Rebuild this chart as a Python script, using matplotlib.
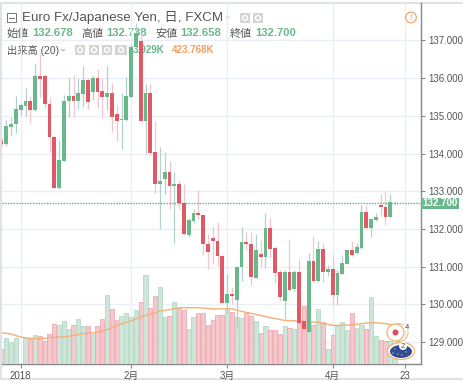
import matplotlib

matplotlib.use("Agg")
import matplotlib.pyplot as plt
from matplotlib.patches import Circle, Ellipse, Polygon, Rectangle

plt.rcParams["font.family"] = ["Liberation Sans", "Noto Sans CJK JP", "DejaVu Sans"]

opens = [134.32, 134.25, 134.71, 134.77, 135.16, 135.27, 135.38, 135.15, 136.06, 136.06,
         135.31, 134.45, 133.10, 133.81, 135.40, 135.53, 135.38, 135.58, 135.95, 135.63,
         136.00, 135.66, 135.51, 135.60, 135.05, 134.88, 134.89, 135.51, 136.83, 136.99,
         134.87, 135.60, 134.04, 133.19, 133.32, 133.51, 133.14, 133.19, 132.70, 131.83,
         132.22, 132.42, 132.37, 131.61, 131.76, 131.67, 131.29, 130.05, 130.28, 130.12,
         131.00, 131.66, 131.60, 130.71, 131.33, 131.25, 132.03, 131.49, 130.85, 130.10,
         130.86, 130.41, 130.85, 129.55, 129.28, 131.16, 130.62, 131.48, 130.87, 130.93,
         130.24, 130.81, 131.08, 131.45, 131.36, 131.50, 132.45, 132.03, 132.24, 132.64,
         132.58, 132.33, 132.678]
closes = [134.25, 134.73, 134.78, 135.17, 135.28, 135.38, 135.15, 136.06, 135.98, 135.31,
          134.43, 133.10, 133.83, 135.40, 135.53, 135.38, 135.60, 135.95, 135.37, 136.00,
          135.63, 135.51, 135.60, 134.96, 134.87, 134.92, 135.53, 136.83, 137.20, 134.87,
          135.60, 134.02, 133.19, 133.28, 133.51, 133.14, 133.19, 132.70, 131.87, 132.24,
          132.42, 132.36, 131.60, 131.38, 131.67, 131.28, 130.05, 130.27, 130.23, 131.00,
          131.66, 131.60, 130.72, 131.44, 131.25, 132.03, 131.46, 130.83, 130.21, 130.86,
          130.39, 130.85, 129.50, 129.35, 131.16, 130.62, 131.48, 130.87, 130.93, 130.24,
          130.83, 131.10, 131.45, 131.30, 131.53, 132.45, 132.03, 132.27, 132.33, 132.57,
          132.33, 132.71, 132.70]
highs = [134.40, 134.90, 134.98, 135.53, 135.30, 135.73, 135.51, 136.39, 136.66, 136.10,
         135.49, 134.50, 134.36, 135.55, 135.99, 136.08, 136.00, 136.32, 136.00, 136.08,
         136.23, 136.00, 136.32, 135.86, 135.29, 135.60, 136.04, 136.90, 137.45, 137.19,
         135.84, 135.84, 134.85, 134.18, 134.05, 133.79, 133.52, 133.30, 133.20, 132.30,
         132.53, 133.04, 132.37, 131.87, 132.07, 132.18, 131.30, 130.81, 130.46, 131.00,
         132.04, 131.93, 131.93, 131.88, 131.71, 132.43, 132.29, 131.53, 130.92, 130.92,
         131.73, 130.92, 131.20, 129.90, 131.37, 131.82, 131.69, 131.62, 131.05, 131.31,
         130.92, 131.31, 131.46, 131.67, 131.64, 132.64, 132.64, 132.29, 132.42, 132.93,
         133.00, 132.93, 132.738]
lows = [134.20, 134.20, 134.47, 134.54, 135.03, 135.00, 134.82, 135.14, 135.51, 135.20,
        134.05, 133.08, 133.07, 133.80, 134.98, 134.98, 135.17, 135.24, 135.19, 135.42,
        135.20, 134.93, 135.15, 134.58, 134.32, 134.12, 134.87, 135.49, 136.80, 134.85,
        134.00, 133.99, 132.96, 132.00, 132.93, 132.52, 131.62, 132.52, 131.84, 131.80,
        132.15, 132.26, 131.30, 130.93, 131.08, 131.02, 130.03, 129.77, 130.00, 129.37,
        130.63, 131.45, 130.52, 130.70, 130.99, 130.96, 131.27, 130.56, 130.10, 129.61,
        130.37, 130.37, 129.45, 128.93, 129.27, 130.60, 130.60, 130.60, 130.75, 129.99,
        129.99, 130.80, 131.07, 131.29, 131.34, 131.48, 132.00, 131.80, 132.20, 132.35,
        132.11, 132.31, 132.658]
volumes = [166, 287, 243, 287, 0, 287, 276, 320, 309, 250,
           331, 442, 423, 471, 383, 431, 497, 420, 420, 331,
           412, 497, 762, 604, 486, 523, 559, 512, 596, 684,
           983, 618, 751, 850, 515, 523, 684, 618, 596, 383,
           515, 559, 559, 431, 478, 541, 534, 618, 574, 515,
           508, 559, 523, 471, 339, 420, 375, 375, 324, 420,
           390, 383, 449, 633, 449, 427, 604, 456, 166, 313,
           412, 460, 375, 559, 390, 423, 383, 736, 309, 265,
           250, 250, 54]
ma_index = [0, 2, 4, 6, 8, 10, 14, 17, 20, 22, 24, 27, 29, 31, 33, 35, 37, 41, 44, 48,
            50, 53, 56, 59, 62, 66, 69, 73, 76, 78, 80, 82]
ma_values = [342, 327, 294, 280, 276, 287, 302, 331, 346, 375, 423, 471, 515, 545, 581, 596,
             618, 618, 604, 607, 578, 545, 508, 478, 471, 456, 423, 427, 449, 453, 442, 423]

price_ticks = [129, 130, 131, 132, 133, 134, 135, 136, 137]
date_ticks = [4, 27, 47, 69, 84]
date_labels = ["2018", "2月", "3月", "4月", "23"]
last_price = 132.700

GREEN = "#68b88c"
RED = "#e05a66"
GREEN_WICK = "#b4d0cd"
RED_WICK = "#f3c5cc"
GREEN_VOL = "#cde6d9"
RED_VOL = "#f4c8cd"
GREEN_VOL_EDGE = "#b4d9c5"
RED_VOL_EDGE = "#eeaab1"
GRID = "#e9eff4"
W, H = 464, 381

fig = plt.figure(figsize=(W / 100, H / 100), dpi=100, facecolor="white")


def pixel_axes(zorder):
    a = fig.add_axes([0, 0, 1, 1], zorder=zorder)
    a.set_xlim(0, W)
    a.set_ylim(H, 0)
    a.axis("off")
    return a


# legend text sits under the candles
under = pixel_axes(1)
under.plot([1, 1, 463], [379, 2.5, 2.5], color="#dfe3e8", lw=1.5)
under.plot([1, 463], [379, 379], color="#dfe3e8", lw=1.5)

under.add_patch(Rectangle((7.5, 13), 9, 9, fc="white", ec="#777777", lw=0.7))
under.plot([9.5, 14.5], [17.5, 17.5], color="#777777", lw=0.7)
under.text(22, 18, "Euro Fx/Japanese Yen, 日, FXCM", fontsize=9.6, color="#555555", va="center")
under.add_patch(Polygon([[225, 16.5], [230, 16.5], [227.5, 19]], fc="#cccccc", ec="none"))
under.add_patch(Polygon([[60, 49], [66, 49], [63, 52]], fc="#cccccc", ec="none"))

for x, label, value in [(7, "始値", "132.678"), (81, "高値", "132.738"),
                        (155, "安値", "132.658"), (230, "終値", "132.700")]:
    under.text(x, 33.5, label, fontsize=8, color="#555555", va="center")
    under.text(x + 25, 33.5, value, fontsize=8.1, color=GREEN, va="center", fontweight="bold")

under.text(7, 50, "出来高 (20)", fontsize=7.4, color="#555555", va="center")
under.text(133, 50, "3.929K", fontsize=7, color=GREEN, va="center", fontweight="bold")
under.text(172, 50, "423.768K", fontsize=7, color="#f2a05f", va="center", fontweight="bold")

for x, y, w in [(240, 13, 10), (253, 13, 10), (75, 45, 10), (89, 45, 10), (102, 45, 10), (115, 45, 12)]:
    under.add_patch(Rectangle((x, y), w, 10, fc="#d5d5d5", ec="none"))
    under.add_patch(Circle((x + w / 2, y + 5), 2.5, fc="none", ec="white", lw=1))

ax = fig.add_axes([1.7 / W, 1 - 363.7 / H, (421 - 1.7) / W, (363.7 - 3) / H], zorder=2)
ax.patch.set_alpha(0)

vol = ax.twinx()
vol.axis("off")
vol.patch.set_alpha(0)
for i, v in enumerate(volumes):
    up = closes[i] >= opens[i]
    vol.bar(i, v, width=0.86, color=GREEN_VOL if up else RED_VOL,
            edgecolor=GREEN_VOL_EDGE if up else RED_VOL_EDGE, linewidth=0.6, zorder=1)
vol.plot(ma_index, ma_values, color="#f5b078", lw=1, zorder=2)
vol.set_ylim(0, 3982)

# candles go on their own twin so that they stay above the volume
price = ax.twinx()
price.axis("off")
price.patch.set_alpha(0)
for i in range(len(opens)):
    up = closes[i] >= opens[i]
    price.vlines(i, lows[i], highs[i], color=GREEN_WICK if up else RED_WICK, lw=0.9, zorder=1)
    price.bar(i, abs(closes[i] - opens[i]), bottom=min(opens[i], closes[i]), width=0.8,
              color=GREEN if up else RED, zorder=2)
price.axhline(last_price, color="#4fb880", lw=1, ls=(0, (1, 1)), zorder=1)
price.set_ylim(128.43, 137.99)

# twinx moves the ticks of ax to the left and the bars autoscale x, so these come last
ax.set_ylim(128.43, 137.99)
ax.set_xlim(0.035, 87.4)
ax.set_yticks(price_ticks)
ax.set_yticklabels([f"{p:.3f}" for p in price_ticks])
ax.set_xticks(date_ticks)
ax.set_xticklabels(date_labels)
ax.yaxis.tick_right()
ax.tick_params(axis="y", length=3, width=0.8, color="#888888", labelcolor="#555555", labelsize=7, pad=2)
ax.tick_params(axis="x", length=3, width=0.8, color="#888888", labelcolor="#555555", labelsize=7, pad=2)
ax.grid(True, color=GRID, lw=1)
ax.set_axisbelow(True)
for side in ["top", "left"]:
    ax.spines[side].set_visible(False)
for side in ["right", "bottom"]:
    ax.spines[side].set_color("#888888")
    ax.spines[side].set_linewidth(1)

top = pixel_axes(3)
top.add_patch(Rectangle((421, 198), 38, 10.5, fc=GREEN, ec="none"))
top.text(440, 203.2, "132.700", fontsize=7, color="white", fontweight="bold", ha="center", va="center")

# warning mark
top.add_patch(Circle((411, 17.5), 5.3, fc="white", ec="#f5a667", lw=0.9))
top.text(411, 17.5, "!", fontsize=6.5, color="#f5a667", ha="center", va="center")

# event bubbles, each with a second ring behind it
top.add_patch(Circle((399, 332.5), 9, fc="none", ec="#f3c08a", lw=0.8))
top.add_patch(Circle((395.5, 332.5), 8.5, fc="white", ec="#f3b46c", lw=0.9))
top.add_patch(Circle((395.5, 332.5), 3, fc="#e0505c", ec="none"))
top.add_patch(Circle((407, 327), 3.5, fc="white", ec="none"))
top.text(407, 327.5, "4", fontsize=5.5, color="#444444", ha="center", va="center")
top.add_patch(Ellipse((401, 351), 27, 17, fc="white", ec="#f3b46c", lw=0.9))
top.add_patch(Ellipse((401, 351.5), 22, 13, fc="#2f4b9a", ec="none"))
for x, y in [(395, 349), (398, 354), (402, 355), (406, 352), (393, 353)]:
    top.add_patch(Circle((x, y), 0.7, fc="#e8c84a", ec="none"))
top.add_patch(Circle((403, 346), 4, fc="white", ec="none"))
top.text(403, 346.5, "2", fontsize=5.5, color="#444444", ha="center", va="center")

fig.savefig("out.png", dpi=100)
